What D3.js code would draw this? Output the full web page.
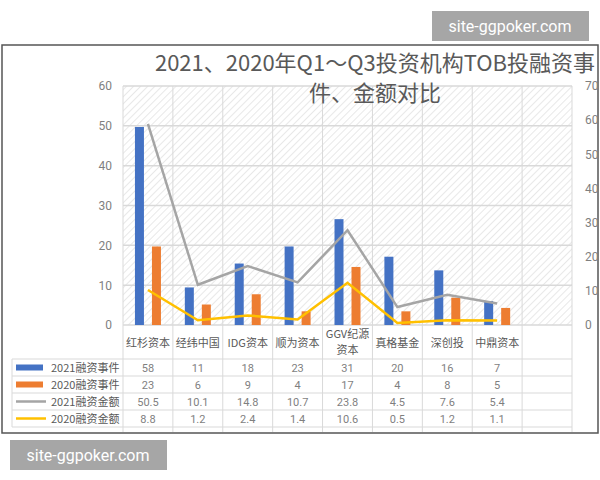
<!DOCTYPE html><html><head><meta charset="utf-8"><script src="https://d3js.org/d3.v7.min.js"></script>
<style>body{margin:0;background:#fff}text{font-family:"Noto Sans CJK SC",sans-serif}</style></head><body>
<svg id="c" width="600" height="480"></svg>
<script>
const categories=["红杉资本","经纬中国","IDG资本","顺为资本","GGV纪源资本","真格基金","深创投","中鼎资本"];
const events2021=[58,11,18,23,31,20,16,7];
const events2020=[23,6,9,4,17,4,8,5];
const amount2021=[50.5,10.1,14.8,10.7,23.8,4.5,7.6,5.4];
const amount2020=[8.8,1.2,2.4,1.4,10.6,0.5,1.2,1.1];
const amountLabels2021=["50.5","10.1","14.8","10.7","23.8","4.5","7.6","5.4"];
const amountLabels2020=["8.8","1.2","2.4","1.4","10.6","0.5","1.2","1.1"];
const seriesNames=["2021融资事件","2020融资事件","2021融资金额","2020融资金额"];
const colors=["#4472c4","#ed7d31","#a5a5a5","#ffc000"];
const svg=d3.select("#c");
const L=123,R=572,T=86,B=325;
const slots=d3.range(9);
const x=d3.scaleBand().domain(slots).range([L,R]);
const yL=d3.scaleLinear().domain([0,60]).range([B,T]);
const yR=d3.scaleLinear().domain([0,70]).range([B,T]);
svg.append("rect").attr("x",2).attr("y",45).attr("width",596).attr("height",388).attr("fill","#fff").attr("stroke","#555").attr("stroke-width",1.5);
const defs=svg.append("defs");
const p=defs.append("pattern").attr("id","h").attr("width",5).attr("height",5).attr("patternUnits","userSpaceOnUse").attr("patternTransform","rotate(45)");
p.append("line").attr("x1",0).attr("y1",0).attr("x2",0).attr("y2",5).attr("stroke","#d9d9d9").attr("stroke-width",1.2);
svg.append("rect").attr("x",L).attr("y",T).attr("width",R-L).attr("height",B-T).attr("fill","url(#h)");
svg.append("g").selectAll("line").data(yL.ticks(6)).join("line").attr("x1",L).attr("x2",R).attr("y1",d=>yL(d)).attr("y2",d=>yL(d)).attr("stroke","#d9d9d9").attr("stroke-width",1.5);
svg.append("g").selectAll("line").data(d3.range(10)).join("line").attr("x1",i=>L+i*x.bandwidth()).attr("x2",i=>L+i*x.bandwidth()).attr("y1",T).attr("y2",432).attr("stroke","#d9d9d9");
svg.append("g").attr("transform",`translate(${L-8},0)`).call(d3.axisLeft(yL).ticks(6).tickSize(0)).call(g=>g.select(".domain").remove()).selectAll("text").attr("fill","#7f7f7f").style("font-size","12px").style("font-family","Roboto");
svg.append("g").attr("transform",`translate(${R+10},0)`).call(d3.axisRight(yR).ticks(7).tickSize(0)).call(g=>g.select(".domain").remove()).selectAll("text").attr("fill","#7f7f7f").style("font-size","12px").style("font-family","Roboto");
const bw=9;
categories.forEach((c,i)=>{
 const cx=x(i)+x.bandwidth()/2;
 svg.append("rect").attr("x",cx-bw-4).attr("y",yR(events2021[i])).attr("width",bw).attr("height",B-yR(events2021[i])).attr("fill",colors[0]);
 svg.append("rect").attr("x",cx+4).attr("y",yR(events2020[i])).attr("width",bw).attr("height",B-yR(events2020[i])).attr("fill",colors[1]);
});
const line=d3.line().x((d,i)=>x(i)+x.bandwidth()/2).y(d=>yL(d));
svg.append("path").attr("d",line(amount2021)).attr("fill","none").attr("stroke",colors[2]).attr("stroke-width",2.5);
svg.append("path").attr("d",line(amount2020)).attr("fill","none").attr("stroke",colors[3]).attr("stroke-width",2.5);
svg.append("text").attr("x",375).attr("y",71).attr("text-anchor","middle").attr("fill","#595959").style("font-size","22px").text("2021、2020年Q1～Q3投资机构TOB投融资事");
svg.append("text").attr("x",375).attr("y",101).attr("text-anchor","middle").attr("fill","#595959").style("font-size","22px").text("件、金额对比");
categories.forEach((c,i)=>{
 const cx=x(i)+x.bandwidth()/2;
 if(c.length>5){
  svg.append("text").attr("x",cx).attr("y",338).attr("text-anchor","middle").attr("fill","#595959").style("font-size","11px").text(c.slice(0,5));
  svg.append("text").attr("x",cx).attr("y",354).attr("text-anchor","middle").attr("fill","#595959").style("font-size","11px").text(c.slice(5));
 } else svg.append("text").attr("x",cx).attr("y",347).attr("text-anchor","middle").attr("fill","#595959").style("font-size","11px").text(c);
});
const rowY=[359,376,393,410,427];
rowY.forEach(y=>svg.append("line").attr("x1",12).attr("x2",R).attr("y1",y).attr("y2",y).attr("stroke","#d9d9d9"));
svg.append("line").attr("x1",12).attr("x2",12).attr("y1",359).attr("y2",427).attr("stroke","#d9d9d9");
const rows=[events2021.map(String),events2020.map(String),amountLabels2021,amountLabels2020];
rows.forEach((r,k)=>{
 const ym=rowY[k]+8.5;
 if(k<2) svg.append("rect").attr("x",16).attr("y",ym-3).attr("width",27).attr("height",6).attr("fill",colors[k]);
 else svg.append("line").attr("x1",16).attr("x2",46).attr("y1",ym).attr("y2",ym).attr("stroke",colors[k]).attr("stroke-width",2.5);
 svg.append("text").attr("x",51).attr("y",ym+4).attr("fill","#595959").style("font-size","11px").text(seriesNames[k]);
 r.forEach((v,i)=>svg.append("text").attr("x",x(i)+x.bandwidth()/2).attr("y",ym+4).attr("text-anchor","middle").attr("fill","#7f7f7f").style("font-size","11px").style("font-family","Roboto").text(v));
});
[[432,11],[10,440]].forEach(([wx,wy])=>{
 svg.append("rect").attr("x",wx).attr("y",wy).attr("width",157).attr("height",30).attr("fill","#a6a6a6");
 svg.append("text").attr("x",wx+78).attr("y",wy+21).attr("text-anchor","middle").attr("fill","#fff").style("font-size","16px").style("font-family","Roboto").text("site-ggpoker.com");
});
</script></body></html>
